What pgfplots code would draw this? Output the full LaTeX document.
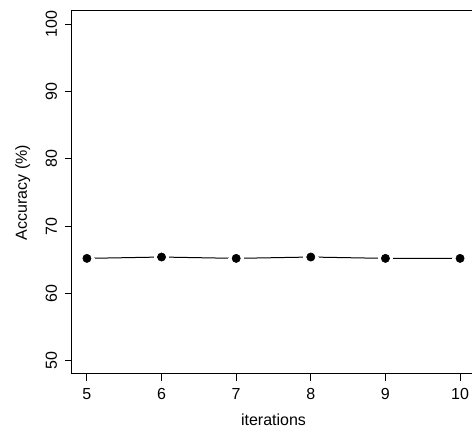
\documentclass[border=0pt]{standalone}
\usepackage{pgfplots}
\pgfplotsset{compat=1.18}
\usepackage{fontspec}
\setmainfont{Liberation Sans}

\pgfplotstableread{
iter acc
5  65.2
6  65.4
7  65.2
8  65.4
9  65.2
10 65.2
}\acctable

\begin{document}
\begin{tikzpicture}
\begin{axis}[
  scale only axis,
  width=302.25pt, height=272.25pt,
  xmin=4.8, xmax=10.2,
  ymin=48, ymax=102,
  xtick={5,6,7,8,9,10},
  ytick={50,60,70,80,90,100},
  xtick pos=bottom, ytick pos=left,
  tick align=outside,
  major tick length=5.25pt,
  tick style={line width=0.75pt, black},
  axis line style={line width=0.75pt},
  /pgf/number format/assume math mode=true,
  tick label style={font=\fontsize{12}{14}\selectfont, inner sep=0pt},
  yticklabel style={xshift=-6pt, rotate=90, anchor=base},
  xticklabel style={anchor=base, yshift=-14pt},
  every axis y label/.style={at={(axis description cs:0,0.5)}, xshift=-33.75pt, rotate=90, anchor=base, inner sep=0pt, font=\fontsize{12}{14}\selectfont},
  every axis x label/.style={at={(axis description cs:0.5,0)}, yshift=-39pt, anchor=base, inner sep=0pt, font=\fontsize{12}{14}\selectfont},
  xlabel={iterations},
  ylabel={Accuracy (\%)},
  clip=false,
]
% connecting line
\addplot[black, line width=0.75pt, no marks] table[x=iter, y=acc] {\acctable};
% white discs open a gap in the line around each point
\addplot[white, only marks, mark=*, mark size=5.4pt, mark options={white, fill=white, draw=white, line width=0pt}] table[x=iter, y=acc] {\acctable};
% filled points
\addplot[black, only marks, mark=*, mark size=3.1pt, mark options={black, fill=black, draw=none}] table[x=iter, y=acc] {\acctable};
\end{axis}
\pgfresetboundingbox
\useasboundingbox ([shift={(-54pt,-45.75pt)}]current axis.south west) rectangle ([shift={(300pt,280.5pt)}]current axis.south west);
\end{tikzpicture}
\end{document}
